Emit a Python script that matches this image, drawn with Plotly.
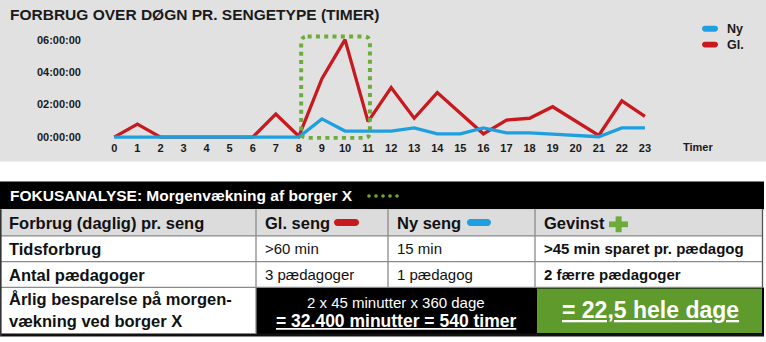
import plotly.graph_objects as go

# ---- chart data (hours of use per hour of the day) ----
hours = list(range(24))
hour_labels = [str(h) for h in hours]
gl_usage = [0, 0.8, 0, 0, 0, 0, 0, 1.42, 0.05, 3.6, 6.0, 0.95, 3.05, 1.16,
            2.74, 1.47, 0.2, 1.05, 1.16, 1.87, 1.01, 0.1, 2.23, 1.28]
ny_usage = [0, 0, 0, 0, 0, 0, 0, 0, 0, 1.12, 0.37, 0.37, 0.37, 0.57,
            0.2, 0.2, 0.57, 0.26, 0.26, 0.18, 0.1, 0.02, 0.57, 0.57]
y_tick_vals = [0, 2, 4, 6]
y_tick_text = ["00:00:00", "02:00:00", "04:00:00", "06:00:00"]
series_names = ["Ny", "Gl."]
focus_window = [8.1, 11.08]          # morning wake-up hours highlighted
focus_span = [-0.06, 6.2]

# ---- table content ----
table_title = "FOKUSANALYSE: Morgenvækning af borger X"
header_row = ["Forbrug (daglig) pr. seng", "Gl. seng", "Ny seng", "Gevinst"]
row_time = ["Tidsforbrug", ">60 min", "15 min", ">45 min sparet pr. pædagog"]
row_staff = ["Antal pædagoger", "3 pædagoger", "1 pædagog", "2 færre pædagoger"]
savings_label = ["Årlig besparelse på morgen-", "vækning ved borger X"]
savings_calc = ["2 x 45 minutter x 360 dage", "= 32.400 minutter = 540 timer"]
savings_result = "= 22,5 hele dage"

W, H = 766, 342
RED = "#c8191f"
BLUE = "#1e9fe0"
GREEN = "#6dab3a"
GREEN_CELL = "#5e9a2c"
PANEL = "#e1e1e1"
GRID = "#8a8a8a"
FONT = "Liberation Sans, Arial, sans-serif"


def px(x):
    return x / W


def py(y):
    return 1 - y / H


# plot-area geometry in pixels
X0_PX, X_STEP = 114.3, 23.07
Y0_PX, Y_STEP = 138.3, 16.38
DOM_L, DOM_R = 82, 766
DOM_T, DOM_B = 30, 141

fig = go.Figure()
fig.add_trace(go.Scatter(x=hours, y=gl_usage, mode="lines", name=series_names[1],
                         line=dict(color=RED, width=3.3), showlegend=False))
fig.add_trace(go.Scatter(x=hours, y=ny_usage, mode="lines", name=series_names[0],
                         line=dict(color=BLUE, width=3.3), showlegend=False))

shapes = []
annotations = []

# grey chart panel
shapes.append(dict(type="rect", xref="paper", yref="paper", layer="below",
                   x0=0, x1=1, y0=py(163), y1=1, fillcolor=PANEL, line_width=0))

# dotted focus frame with rounded corners (data coordinates)
fx0, fx1 = focus_window
fy0, fy1 = focus_span
rx, ry = 0.28, 0.38
frame = (f"M{fx0+rx},{fy1} L{fx1-rx},{fy1} Q{fx1},{fy1} {fx1},{fy1-ry} "
         f"L{fx1},{fy0+ry} Q{fx1},{fy0} {fx1-rx},{fy0} L{fx0+rx},{fy0} "
         f"Q{fx0},{fy0} {fx0},{fy0+ry} L{fx0},{fy1-ry} Q{fx0},{fy1} {fx0+rx},{fy1} Z")
shapes.append(dict(type="path", xref="x", yref="y", path=frame,
                   line=dict(color=GREEN, width=4, dash="4px,4.3px")))


def pill(x0, x1, yc, h, color):
    r = h / 2
    k = 0.5523 * r
    pts = [
        ("M", [(x0 + r, yc - r)]),
        ("L", [(x1 - r, yc - r)]),
        ("C", [(x1 - r + k, yc - r), (x1, yc - k), (x1, yc)]),
        ("C", [(x1, yc + k), (x1 - r + k, yc + r), (x1 - r, yc + r)]),
        ("L", [(x0 + r, yc + r)]),
        ("C", [(x0 + r - k, yc + r), (x0, yc + k), (x0, yc)]),
        ("C", [(x0, yc - k), (x0 + r - k, yc - r), (x0 + r, yc - r)]),
    ]
    path = " ".join(cmd + " ".join(f"{px(a):.5f},{py(b):.5f}" for a, b in p)
                    for cmd, p in pts) + " Z"
    return dict(type="path", xref="paper", yref="paper", path=path,
                fillcolor=color, line_width=0)


def rect(x0, x1, y0, y1, color):
    return dict(type="rect", xref="paper", yref="paper", x0=px(x0), x1=px(x1),
                y0=py(y1), y1=py(y0), fillcolor=color, line_width=0)


def hline(x0, x1, y, color=GRID, w=1.3):
    return dict(type="line", xref="paper", yref="paper", x0=px(x0), x1=px(x1),
                y0=py(y), y1=py(y), line=dict(color=color, width=w))


def vline(x, y0, y1, color=GRID, w=1.3):
    return dict(type="line", xref="paper", yref="paper", x0=px(x), x1=px(x),
                y0=py(y0), y1=py(y1), line=dict(color=color, width=w))


def text(x, y, s, size, bold=False, color="#111111", anchor="left", under=False):
    f = dict(family=FONT, size=size, color=color)
    if under:
        f["lineposition"] = "under"
    return dict(xref="paper", yref="paper", x=px(x), y=py(y), showarrow=False,
                text=(f"<b>{s}</b>" if bold else s), font=f,
                xanchor=anchor, yanchor="middle")


# title
annotations.append(text(8, 15, "FORBRUG OVER DØGN PR. SENGETYPE (TIMER)", 15.5, True, "#1a1a1a"))

# legend
legend_colors = [BLUE, RED]
for i, (name, col) in enumerate(zip(series_names, legend_colors)):
    yc = 29 + 16 * i
    shapes.append(pill(702, 718, yc, 6, col))
    annotations.append(text(725, yc, name, 12.5, True, "#1a1a1a"))

# x-axis caption
annotations.append(dict(xref="x", yref="paper", x=25.3, y=py(148), showarrow=False,
                        text="<b>Timer</b>", xanchor="center", yanchor="middle",
                        font=dict(family=FONT, size=11, color="#1a1a1a")))

# ---- table ----
cols = [0, 256, 388, 535, 763]
rows = [183, 211, 238, 264, 290, 337]
pad = 7

shapes.append(rect(0, 764, rows[0], rows[1], "#000000"))
shapes.append(rect(0, 763, rows[1], rows[2], "#dcdcdc"))
shapes.append(rect(cols[1], 764, rows[4], 339, "#000000"))
shapes.append(rect(cols[3] + 2, cols[4] - 1, rows[4] + 1, rows[5] - 1, GREEN_CELL))
shapes.append(rect(0, 764, 336.5, 339.5, "#111111"))
for r in rows[2:5]:
    shapes.append(hline(0, 763, r))
for c in cols[1:4]:
    shapes.append(vline(c, rows[1], rows[4]))
shapes.append(vline(cols[1], rows[4], rows[5]))
shapes.append(vline(0.8, rows[1], 339, "#333333", 1.6))
shapes.append(vline(762.5, rows[1], rows[4], "#555555", 1.3))

# table title bar with green dots
annotations.append(text(8, 197.5, table_title, 15.5, True, "#ffffff"))
for i in range(5):
    cx = 369 + 7 * i
    shapes.append(dict(type="circle", xref="paper", yref="paper",
                       x0=px(cx - 1.8), x1=px(cx + 1.8), y0=py(199.5), y1=py(195.9),
                       fillcolor=GREEN, line_width=0))

# header row
hy = (rows[1] + rows[2]) / 2
for c, label in zip(cols[:4], header_row):
    annotations.append(text(c + pad, hy, label, 16.5, True, "#111111"))
shapes.append(pill(334, 359, hy, 7, RED))
shapes.append(pill(467, 491, hy, 7, BLUE))
# green plus next to "Gevinst"
shapes.append(rect(609, 628, 223.4, 229.2, GREEN))
shapes.append(rect(615.6, 621.6, 218.3, 234.3, GREEN))

# data rows
for r_i, row in ((2, row_time), (3, row_staff)):
    yc = (rows[r_i] + rows[r_i + 1]) / 2
    annotations.append(text(cols[0] + pad, yc, row[0], 16.5, True))
    annotations.append(text(cols[1] + pad, yc, row[1], 15))
    annotations.append(text(cols[2] + pad, yc, row[2], 15))
    annotations.append(text(cols[3] + pad, yc, row[3], 15, True))

# savings row
annotations.append(text(cols[0] + pad, 302, savings_label[0], 16.5, True))
annotations.append(text(cols[0] + pad, 323.5, savings_label[1], 16.5, True))
mid = (cols[1] + cols[3]) / 2 + 1
annotations.append(text(mid, 305, savings_calc[0], 15, False, "#ffffff", "center"))
annotations.append(text(mid, 323.5, savings_calc[1], 17.5, True, "#ffffff", "center", True))
annotations.append(text((cols[3] + cols[4]) / 2 + 1, 312.5, savings_result, 23, True,
                        "#ffffff", "center", True))

x_range = [(DOM_L - X0_PX) / X_STEP, (DOM_R - X0_PX) / X_STEP]
y_range = [(Y0_PX - DOM_B) / Y_STEP, (Y0_PX - DOM_T) / Y_STEP]

fig.update_layout(
    width=W, height=H, margin=dict(l=0, r=0, t=0, b=0),
    paper_bgcolor="#ffffff", plot_bgcolor="rgba(0,0,0,0)",
    showlegend=False,
    xaxis=dict(domain=[px(DOM_L), px(DOM_R)], range=x_range, tickmode="array",
               tickvals=hours, ticktext=hour_labels, showgrid=False, zeroline=False,
               showline=False, ticks="", ticklabelstandoff=0,
               tickfont=dict(family=FONT, size=11, color="#1a1a1a", weight="bold")),
    yaxis=dict(domain=[py(DOM_B), py(DOM_T)], range=y_range, tickmode="array",
               tickvals=y_tick_vals, ticktext=y_tick_text, showgrid=False,
               zeroline=False, showline=False, ticks="",
               tickfont=dict(family=FONT, size=11, color="#1a1a1a", weight="bold")),
    shapes=shapes, annotations=annotations,
)

fig.write_html("out.html")
